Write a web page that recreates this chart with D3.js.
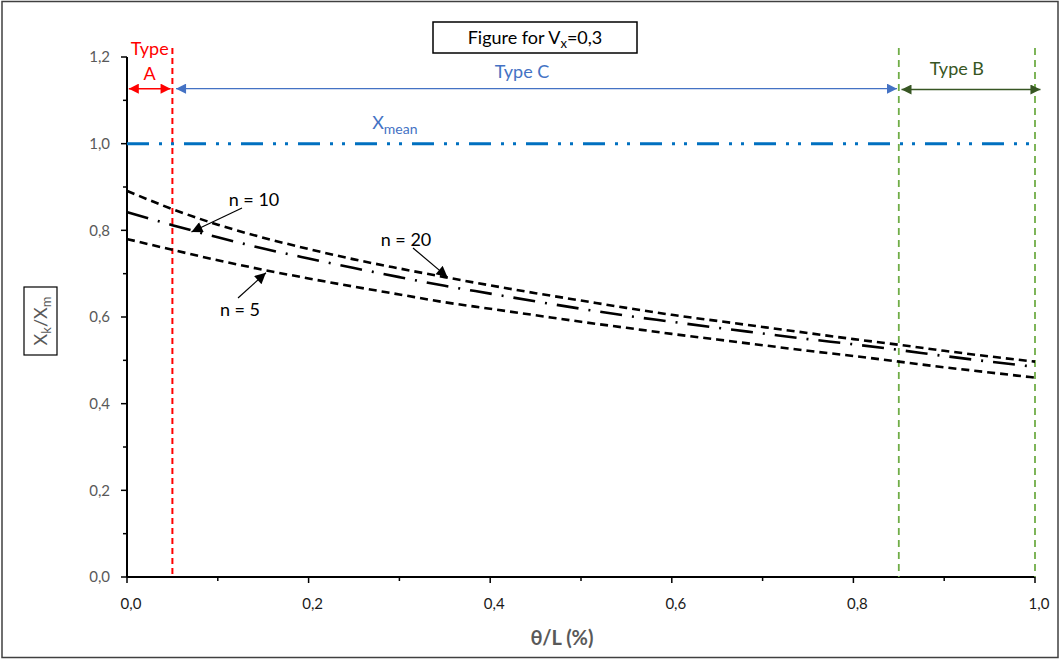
<!DOCTYPE html>
<html><head><meta charset="utf-8">
<script src="https://cdn.jsdelivr.net/npm/d3@7"></script>
<style>body{margin:0;background:#fff}svg{display:block}text{font-family:Lato,"Open Sans",sans-serif}</style>
</head><body><svg id="c" width="1061" height="660"></svg>
<script>
const xVals = [0,0.05,0.1,0.15,0.2,0.25,0.3,0.35,0.4,0.45,0.5,0.55,0.6,0.65,0.7,0.75,0.8,0.85,0.9,0.95,1.0];
const n20 = [0.891,0.849,0.813,0.783,0.757,0.733,0.712,0.692,0.673,0.655,0.638,0.621,0.605,0.591,0.577,0.563,0.549,0.536,0.522,0.509,0.497];
const n10 = [0.842,0.812,0.784,0.758,0.735,0.713,0.692,0.672,0.654,0.636,0.619,0.603,0.589,0.575,0.562,0.549,0.537,0.524,0.510,0.497,0.485];
const n5  = [0.780,0.755,0.731,0.709,0.689,0.670,0.652,0.634,0.619,0.604,0.589,0.575,0.561,0.548,0.535,0.522,0.510,0.497,0.484,0.472,0.460];
const xTicks = [0,0.2,0.4,0.6,0.8,1.0];
const yTicks = [0,0.2,0.4,0.6,0.8,1.0,1.2];
const xMean = 1.0;
const typeBounds = [0.05, 0.85, 1.0];

const svg = d3.select("#c");
const x = d3.scaleLinear().domain([0,1]).range([127,1035]);
const y = d3.scaleLinear().domain([0,1.2]).range([577,57]);
const fmt = d => d.toFixed(1).replace(".", ",");

svg.append("rect").attr("x",2).attr("y",1.5).attr("width",1056).attr("height",656)
  .attr("fill","none").attr("stroke","#404040").attr("stroke-width",1.5);

const defs = svg.append("defs");
function marker(id,color){
  defs.append("marker").attr("id",id).attr("viewBox","0 0 10 10").attr("refX",10).attr("refY",5)
    .attr("markerWidth",11).attr("markerHeight",10).attr("markerUnits","userSpaceOnUse").attr("orient","auto-start-reverse")
    .append("path").attr("d","M0,0L10,5L0,10Z").attr("fill",color);
}
marker("aRed","#FF0000"); marker("aBlue","#4472C4"); marker("aGreen","#375623");
defs.append("marker").attr("id","aBlkBig").attr("viewBox","0 0 10 10").attr("refX",10).attr("refY",5)
    .attr("markerWidth",13).attr("markerHeight",11).attr("markerUnits","userSpaceOnUse").attr("orient","auto")
    .append("path").attr("d","M0,0L10,5L0,10Z").attr("fill","#000");

// axes
const yAxis = svg.append("g").attr("transform","translate(127,0)");
yAxis.append("line").attr("y1",y(0)).attr("y2",y(1.2)).attr("stroke","#000").attr("stroke-width",2);
d3.range(0,13).forEach(i=>{
  const v=i/10;
  yAxis.append("line").attr("x1", i%2===0?-6:-4).attr("x2",0).attr("y1",y(v)).attr("y2",y(v)).attr("stroke","#000").attr("stroke-width",1.5);
});
yTicks.forEach(v=>{
  yAxis.append("text").attr("x",-17).attr("y",y(v)).attr("dy","0.35em").attr("text-anchor","end")
    .attr("font-size",15).attr("fill","#595959").text(fmt(v));
});
const xAxis = svg.append("g").attr("transform",`translate(0,${y(0)})`);
xAxis.append("line").attr("x1",x(0)).attr("x2",x(1)).attr("stroke","#000").attr("stroke-width",2);
d3.range(0,11).forEach(i=>{
  const v=i/10;
  xAxis.append("line").attr("x1",x(v)).attr("x2",x(v)).attr("y1",0).attr("y2",i%2===0?6:4).attr("stroke","#000").attr("stroke-width",1.5);
});
xTicks.forEach(v=>{
  xAxis.append("text").attr("x",x(v)+4).attr("y",32).attr("text-anchor","middle")
    .attr("font-size",15).attr("fill","#1a1a1a").text(fmt(v));
});

// vertical type boundaries
svg.append("line").attr("x1",x(typeBounds[0])).attr("x2",x(typeBounds[0])).attr("y1",48).attr("y2",y(0))
  .attr("stroke","#FF0000").attr("stroke-width",2).attr("stroke-dasharray","6,4");
[typeBounds[1],typeBounds[2]].forEach(v=>{
  svg.append("line").attr("x1",x(v)).attr("x2",x(v)).attr("y1",48).attr("y2",y(0))
    .attr("stroke","#70AD47").attr("stroke-width",1.8).attr("stroke-dasharray","7,5");
});

// Xmean line
svg.append("line").attr("x1",x(0)).attr("x2",x(1)).attr("y1",y(xMean)).attr("y2",y(xMean))
  .attr("stroke","#0070C0").attr("stroke-width",3).attr("stroke-dasharray","22,10,3,9,3,10");

// curves
const line = d3.line().x((d,i)=>x(xVals[i])).y(d=>y(d)).curve(d3.curveMonotoneX);
svg.append("path").datum(n20).attr("d",line).attr("fill","none").attr("stroke","#000").attr("stroke-width",2.6).attr("stroke-dasharray","8,5");
svg.append("path").datum(n5).attr("d",line).attr("fill","none").attr("stroke","#000").attr("stroke-width",2.6).attr("stroke-dasharray","8,5");
svg.append("path").datum(n10).attr("d",line).attr("fill","none").attr("stroke","#000").attr("stroke-width",2.6).attr("stroke-dasharray","22,10,2,10");

// type arrows
function dbl(x1,x2,yy,c,m,w){
  svg.append("line").attr("x1",x1).attr("x2",x2).attr("y1",yy).attr("y2",yy).attr("stroke",c).attr("stroke-width",w)
    .attr("marker-start",`url(#${m})`).attr("marker-end",`url(#${m})`);
}
dbl(x(0.002),x(0.048),y(1.127),"#FF0000","aRed",1.5);
dbl(x(0.054),x(0.848),y(1.127),"#4472C4","aBlue",1.2);
dbl(x(0.853),x(1.006),y(1.125),"#375623","aGreen",1.5);

svg.append("text").attr("x",x(0.025)).attr("y",55).attr("text-anchor","middle").attr("font-size",18).attr("fill","#FF0000").text("Type");
svg.append("text").attr("x",x(0.025)).attr("y",80).attr("text-anchor","middle").attr("font-size",18).attr("fill","#FF0000").text("A");
svg.append("text").attr("x",x(0.435)).attr("y",78).attr("text-anchor","middle").attr("font-size",18).attr("fill","#4472C4").text("Type C");
svg.append("text").attr("x",x(0.914)).attr("y",75).attr("text-anchor","middle").attr("font-size",18).attr("fill","#375623").text("Type B");
const xm = svg.append("text").attr("x",x(0.295)).attr("y",129).attr("text-anchor","middle").attr("font-size",18).attr("fill","#4472C4");
xm.append("tspan").text("X");
xm.append("tspan").attr("font-size",14).attr("dy",5).text("mean");

// title box
svg.append("rect").attr("x",433).attr("y",22).attr("width",204).attr("height",31).attr("fill","#fff").attr("stroke","#000").attr("stroke-width",1.5);
const tt = svg.append("text").attr("x",535).attr("y",44).attr("text-anchor","middle").attr("font-size",18).attr("fill","#000");
tt.append("tspan").text("Figure for V");
tt.append("tspan").attr("font-size",13).attr("dy",4).text("x");
tt.append("tspan").attr("dy",-4).text("=0,3");

// n annotations
function ann(txt,tx,ty,x1,y1,vx,vy){
  svg.append("text").attr("x",tx).attr("y",ty).attr("text-anchor","middle").attr("font-size",18).attr("fill","#000").text(txt);
  svg.append("line").attr("x1",x1).attr("y1",y1).attr("x2",x(vx)).attr("y2",y(vy)).attr("stroke","#000").attr("stroke-width",1.2).attr("marker-end","url(#aBlkBig)");
}
ann("n = 10",254,206,242,208,0.071,0.796);
ann("n = 20",406,246,413,248,0.353,0.692);
ann("n = 5",240,316,238,298,0.153,0.702);

// axis titles
svg.append("rect").attr("x",24).attr("y",287).attr("width",33).attr("height",68).attr("fill","none").attr("stroke","#000").attr("stroke-width",1.2);
const yl = svg.append("text").attr("transform","translate(47,321) rotate(-90)").attr("text-anchor","middle").attr("font-size",18).attr("fill","#595959");
yl.append("tspan").text("X");
yl.append("tspan").attr("font-size",13).attr("dy",4).text("k");
yl.append("tspan").attr("dy",-4).text("/X");
yl.append("tspan").attr("font-size",13).attr("dy",4).text("m");
svg.append("text").attr("x",562).attr("y",645).attr("text-anchor","middle").attr("font-size",20).attr("font-weight","bold").attr("fill","#595959").text("θ/L (%)");
</script></body></html>
